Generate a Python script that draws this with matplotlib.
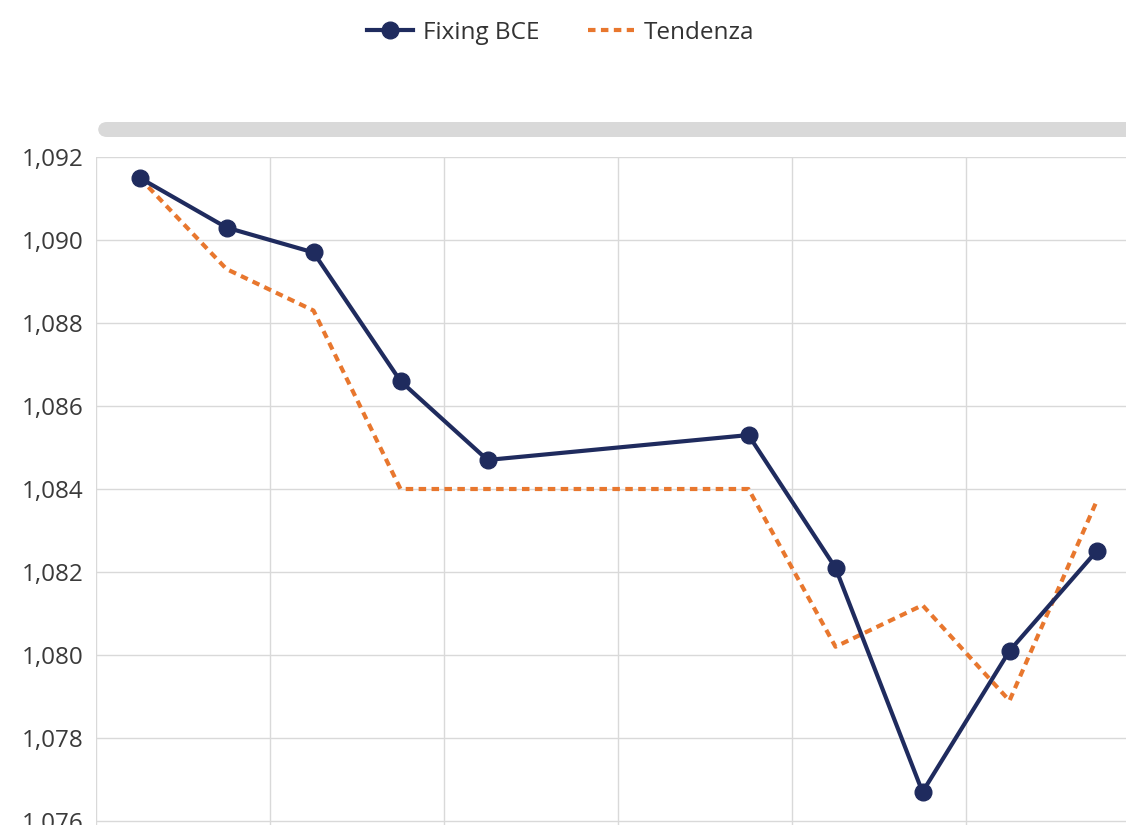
import numpy as np
import matplotlib.pyplot as plt
from matplotlib.patches import FancyBboxPatch
from matplotlib.ticker import FuncFormatter

plt.rcParams['font.family'] = ['Open Sans', 'DejaVu Sans']

# giorni lavorativi (indice del giorno) e valori
giorni = [1, 2, 3, 4, 5, 8, 9, 10, 11, 12]
fixing_bce = [1.0915, 1.0903, 1.0897, 1.0866, 1.0847, 1.0853, 1.0821, 1.0767, 1.0801, 1.0825]
tendenza = [1.0915, 1.0893, 1.0883, 1.0840, 1.0840, 1.0840, 1.0802, 1.0812, 1.0789, 1.0837]

navy = '#1f2b5e'
arancio = '#e8772e'

fig = plt.figure(figsize=(11.26, 8.25), dpi=100)
ax = fig.add_axes([96 / 1126, -0.0153, 1044 / 1126, 0.825])

ax.plot(giorni, tendenza, color=arancio, lw=3, linestyle=(0, (1.8, 1.3)),
        label='Tendenza', zorder=2)
ax.plot(giorni, fixing_bce, color=navy, lw=3, marker='o', markersize=12,
        label='Fixing BCE', zorder=3)

ax.set_xlim(0.5, 12.5)
ax.set_ylim(1.0756, 1.092)
ax.set_xticks(np.arange(0.5, 13, 2))
ax.set_xticklabels([])
ax.set_yticks(np.arange(1.076, 1.0921, 0.002))
ax.yaxis.set_major_formatter(FuncFormatter(lambda v, p: f'{v:.3f}'.replace('.', ',')))
ax.tick_params(axis='y', length=0, pad=9, labelsize=17.5, labelcolor='#3a3a3a')
ax.tick_params(axis='x', length=0)
ax.grid(True, color='#d9d9d9', lw=1)
for s in ax.spines.values():
    s.set_visible(False)

# barra di scorrimento grigia sopra il grafico
barra = FancyBboxPatch((98 / 1126, (825 - 137) / 825), 1.0, 15 / 825,
                       boxstyle='round,pad=0,rounding_size=0.008',
                       transform=fig.transFigure, facecolor='#d9d9d9',
                       edgecolor='none', mutation_aspect=1126 / 825)
fig.patches.append(barra)

h, l = ax.get_legend_handles_labels()
fig.legend(h[::-1], l[::-1], loc='center', bbox_to_anchor=(0.498, 1 - 33 / 825),
           ncol=2, frameon=False, fontsize=17.5, handlelength=1.9,
           columnspacing=2.0, handletextpad=0.4, labelcolor='#333333')

fig.savefig('out.png', dpi=100)
